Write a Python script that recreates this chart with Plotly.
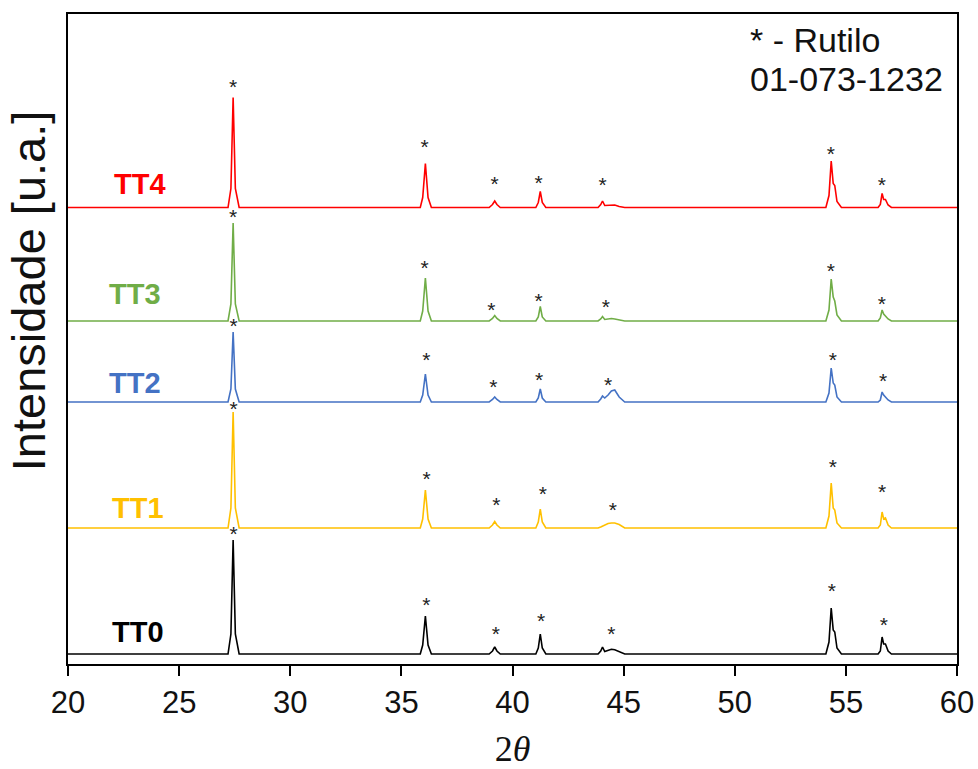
import plotly.graph_objects as go

# Shared 2theta knots of the read-off profiles
two_theta = [20.0, 27.2, 27.33, 27.43, 27.53, 27.7,
             35.85, 35.96, 36.08, 36.2, 36.35,
             38.95, 39.1, 39.2, 39.3, 39.45,
             41.05, 41.16, 41.25, 41.34, 41.5,
             43.85, 43.97, 44.05, 44.15, 44.3, 44.45, 44.6, 44.8, 45.05,
             54.1, 54.24, 54.34, 54.43, 54.5, 54.6, 54.8,
             56.45, 56.55, 56.63, 56.7, 56.78, 56.9, 57.05,
             60.0]

# Intensities above each baseline (a.u.)
tt0 = [0, 0, 20, 114, 20, 0,
       0, 9, 38, 9, 0,
       0, 3, 7, 3, 0,
       0, 6, 20, 6, 0,
       0, 3, 7, 2.5, 3.5, 4.7, 4.2, 2, 0,
       0, 12, 46, 24, 22, 6, 0,
       0, 3, 17, 10, 10, 3, 0,
       0]
tt1 = [0, 0, 20, 116, 20, 0,
       0, 9, 38, 9, 0,
       0, 3, 6.5, 3, 0,
       0, 6, 19, 6, 0,
       0, 1, 2, 3, 4.5, 5, 5, 3.5, 0,
       0, 12, 45, 20, 18, 5, 0,
       0, 3, 16, 9, 10, 3, 0,
       0]
tt2 = [0, 0, 13, 70, 13, 0,
       0, 7, 28, 7, 0,
       0, 2.5, 5, 2.5, 0,
       0, 4, 13, 4, 0,
       0, 3, 6, 4, 7, 11, 12, 5, 0,
       0, 9, 34, 19, 17, 5, 0,
       0, 2, 10, 7, 5, 2, 0,
       0]
tt3 = [0, 0, 17, 98, 17, 0,
       0, 10, 43, 10, 0,
       0, 2.5, 5.5, 2.5, 0,
       0, 4, 14.5, 4, 0,
       0, 2, 4.5, 1.5, 2, 2.5, 2, 1, 0,
       0, 11, 42, 24, 20, 6, 0,
       0, 3, 11, 7, 5, 2, 0,
       0]
tt4 = [0, 0, 19, 110, 19, 0,
       0, 10, 44, 10, 0,
       0, 3, 6.5, 3, 0,
       0, 5, 16, 5, 0,
       0, 3, 6.5, 2, 2, 2.5, 2.5, 1, 0,
       0, 12, 46.5, 24, 22, 6, 0,
       0, 3, 14, 8, 8, 2.5, 0,
       0]

names = ["TT0", "TT1", "TT2", "TT3", "TT4"]
series = [tt0, tt1, tt2, tt3, tt4]
offsets = [10, 136, 262, 343, 456.5]
colors = ["#000000", "#FFC000", "#4472C4", "#70AD47", "#FF0000"]
label_x = [23.15, 23.15, 23.02, 23.02, 23.24]
label_y = [32.5, 156.5, 281, 370, 480]

# Rutile reflection markers (*)
star_x = [[27.45, 36.12, 39.25, 41.29, 44.45, 54.37, 56.71],
          [27.45, 36.14, 39.27, 41.37, 44.52, 54.41, 56.63],
          [27.45, 36.12, 39.14, 41.2, 44.3, 54.41, 56.67],
          [27.43, 36.05, 39.05, 41.17, 44.2, 54.32, 56.62],
          [27.43, 36.04, 39.19, 41.17, 44.05, 54.32, 56.62]]
star_y = [[133, 62, 33, 46, 33, 76, 42],
          [258, 188, 162, 173, 157, 200, 175],
          [341, 307, 280, 287, 282, 307, 286],
          [450, 399, 357, 366, 360, 396, 363],
          [580, 520, 483, 484, 482, 513, 482]]

fig = go.Figure()
for name, vals, off, col in zip(names, series, offsets, colors):
    fig.add_trace(go.Scatter(x=two_theta, y=[off + v for v in vals], mode="lines",
                             line=dict(color=col, width=1.6), name=name,
                             showlegend=False))
for sx, sy in zip(star_x, star_y):
    fig.add_trace(go.Scatter(x=sx, y=[v - 5 for v in sy], mode="text", text=["*"] * len(sx),
                             textfont=dict(family="Liberation Sans", size=21, color="#222222"),
                             showlegend=False, hoverinfo="skip"))

annotations = []
for name, lx, ly, col in zip(names, label_x, label_y, colors):
    annotations.append(dict(x=lx, y=ly, xref="x", yref="y", text="<b>%s</b>" % name,
                            showarrow=False, font=dict(family="Liberation Sans", size=29, color=col)))
annotations.append(dict(x=50.6, y=624, xref="x", yref="y", text="* - Rutilo", xanchor="left",
                        showarrow=False, font=dict(family="Liberation Sans", size=34, color="#111111")))
annotations.append(dict(x=50.6, y=585, xref="x", yref="y", text="01-073-1232", xanchor="left",
                        showarrow=False, font=dict(family="Liberation Sans", size=34, color="#111111")))
annotations.append(dict(x=-0.045, y=0.575, xref="paper", yref="paper", text="Intensidade [u.a.]",
                        textangle=-90, showarrow=False, xanchor="center", yanchor="middle",
                        font=dict(family="Liberation Sans", size=47, color="#111111")))

fig.update_layout(
    width=978, height=769,
    margin=dict(l=68, r=21, t=14, b=105, autoexpand=False),
    plot_bgcolor="white", paper_bgcolor="white",
    annotations=annotations,
    xaxis=dict(range=[20, 60], tickmode="array", tickvals=[20, 25, 30, 35, 40, 45, 50, 55, 60],
               ticks="outside", ticklen=10, tickwidth=2, tickcolor="black",
               automargin=False,
               showline=True, linewidth=2, linecolor="black", mirror=True,
               showgrid=False, zeroline=False,
               tickfont=dict(family="Liberation Sans", size=31, color="#111111"),
               title=dict(text="2<i>θ</i>", font=dict(family="Liberation Serif", size=36, color="#111111"),
                          standoff=18)),
    yaxis=dict(range=[0, 650], showticklabels=False, ticks="", automargin=False,
               showline=True, linewidth=2, linecolor="black", mirror=True,
               showgrid=False, zeroline=False),
)

fig.write_html("out.html")
